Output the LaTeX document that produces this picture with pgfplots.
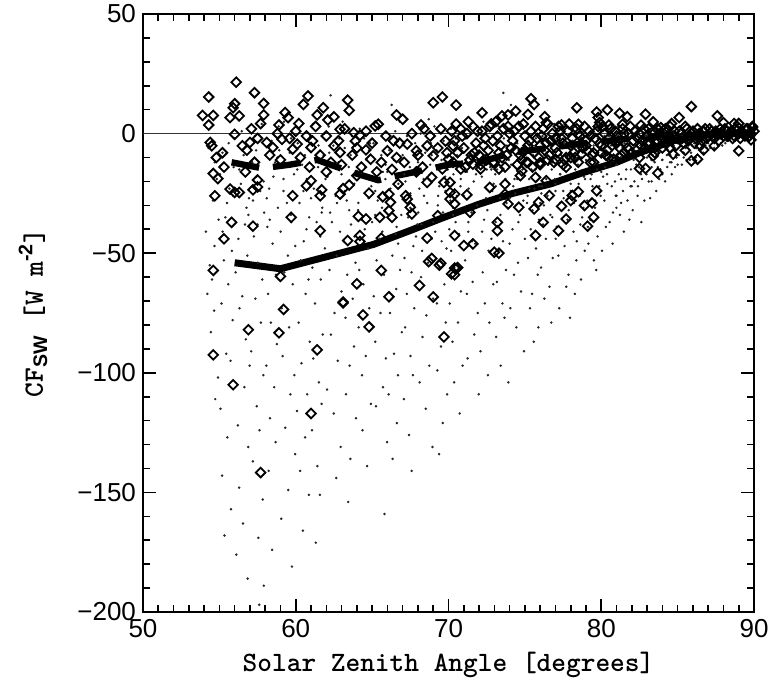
\documentclass[border=0pt]{standalone}
\usepackage{fontspec}
\setsansfont{Liberation Sans}
\usepackage{pgfplots}
\pgfplotsset{compat=1.18}

\begin{document}
\begin{tikzpicture}
\begin{axis}[
  scale only axis,
  width=305.5pt, height=299pt,
  xmin=50, xmax=90, ymin=-200, ymax=50,
  xtick={50,60,...,90}, ytick={-200,-150,...,50},
  xticklabels={50,60,70,80,90},
  yticklabels={−200,−150,−100,−50,0,50},
  minor x tick num=9, minor y tick num=4,
  tick align=inside, tick pos=both,
  major tick length=6.5pt, minor tick length=3.5pt,
  every tick/.style={black, line width=0.8pt},
  axis line style={line width=1pt},
  ticklabel style={font=\sffamily\fontsize{13}{15}\selectfont},
  xlabel={Solar Zenith Angle [degrees]},
  ylabel={CF\textsubscript{\sffamily\bfseries SW} [W m\textsuperscript{\sffamily -2}]},
  label style={font=\ttfamily\bfseries\fontsize{14}{16}\selectfont},
  xlabel style={at={(axis description cs:0.5,-0.0886)}, anchor=center},
  ylabel style={at={(axis description cs:-0.18,0.5)}, anchor=center},
  clip=true
]
% small dots
\addplot[only marks, mark=*, mark size=0.4pt, black!85] coordinates {
(54.12,-41)(54.37,-55)(54.21,-67)(54.58,-28)(54.83,-19)(54.66,-74)(54.44,-83)(54.91,-102)(54.73,-111)(54.29,-6)(54.95,-36)(54.52,-61)(54.68,-47)
(55.93,-14)(55.66,-23)(55.39,-35)(55.82,-49)(55.21,-41)(55.58,-63)(55.14,-71)(55.87,-78)(55.45,-92)(55.73,-95)(55.07,-115)(55.52,-127)(55.18,-143)(55.76,-157)(55.33,-168)(55.61,-4)(55.04,-17)(55.29,-53)(55.5,-29)
(56.59,-9)(56.41,-21)(56.94,-27)(56.68,-38)(56.25,-44)(56.83,-51)(56.06,-58)(56.50,-68)(56.32,-73)(56.73,-86)(56.98,-97)(56.64,-106)(56.21,-122)(56.89,-131)(56.30,-148)(56.54,-163)(56.11,-176)(56.85,-186)(56.46,1)(56.00,-2)(56.77,-31)
(57.15,-12)(57.42,-18)(57.67,-24)(57.93,-33)(57.26,-43)(57.51,-54)(57.81,-61)(57.36,-69)(57.72,-79)(57.08,-91)(57.88,-101)(57.45,-114)(57.63,-124)(57.19,-137)(57.84,-153)(57.55,-169)(57.91,-189)(57.61,-197)(57.33,-1)(57.77,4)(57.2,-28)(57.5,-38)
(58.92,-7)(58.65,-12)(58.26,-23)(58.83,-31)(58.14,-39)(58.48,-46)(58.71,-59)(58.19,-67)(58.37,-79)(58.76,-88)(58.07,-97)(58.59,-106)(58.31,-119)(58.68,-129)(58.23,-141)(58.45,-174)(58.88,3)(58.42,-3)(58.54,-18)(58.1,-27)
(59.61,-8)(59.89,-17)(59.20,-24)(59.68,-34)(59.01,-41)(59.49,-51)(59.25,-58)(59.80,-63)(59.08,-73)(59.56,-81)(59.14,-93)(59.91,-101)(59.65,-109)(59.31,-123)(59.96,-134)(59.51,-149)(59.05,-161)(59.75,-181)(59.23,5)(59.70,-2)(59.42,-29)(59.97,-47)
(60.13,-4)(60.41,-13)(60.72,-19)(60.24,-29)(60.88,-35)(60.53,-45)(60.32,-53)(60.83,-61)(60.64,-67)(60.19,-79)(60.92,-87)(60.37,-96)(60.75,-109)(60.08,-116)(60.61,-127)(60.29,-141)(60.86,-151)(60.47,-166)(60.22,2)(60.95,-1)(60.5,-24)(60.7,-40)
(61.82,-9)(61.46,-14)(61.18,-23)(61.73,-31)(61.37,-37)(61.91,-48)(61.09,-56)(61.64,-61)(61.26,-71)(61.77,-84)(61.15,-94)(61.52,-104)(61.69,-113)(61.06,-124)(61.42,-139)(61.58,-151)(61.31,-171)(61.88,0)(61.12,4)(61.49,-5)(61.95,-19)(61.6,-43)
(62.46,-5)(62.80,-12)(62.08,-18)(62.61,-26)(62.25,-33)(62.90,-41)(62.68,-51)(62.21,-57)(62.99,-66)(62.54,-75)(62.30,-84)(62.75,-95)(62.05,-107)(62.49,-117)(62.94,-131)(62.65,-144)(62.16,3)(62.85,-2)(62.28,16)(62.37,-37)(62.97,-22)
(63.21,-6)(63.47,-14)(63.83,-21)(63.34,-28)(63.62,-38)(63.14,-45)(63.91,-54)(63.37,-59)(63.73,-69)(63.26,-77)(63.81,-89)(63.52,-97)(63.29,-109)(63.94,-119)(63.58,-136)(63.43,-154)(63.07,5)(63.68,-1)(63.5,-32)(63.0,-17)(63.85,-43)
(64.86,-4)(64.62,-11)(64.27,-17)(64.77,-27)(64.08,-32)(64.52,-40)(64.73,-48)(64.16,-57)(64.43,-63)(64.81,-73)(64.12,-81)(64.58,-93)(64.34,-101)(64.92,-113)(64.37,-124)(64.67,-139)(64.19,2)(64.48,-2)(64.95,-22)(64.3,-36)(64.55,-14)
(65.60,-9)(65.88,-13)(65.21,-24)(65.65,-31)(65.00,-37)(65.49,-44)(65.29,-53)(65.78,-59)(65.11,-68)(65.55,-75)(65.20,-87)(65.90,-94)(65.71,-106)(65.25,-114)(65.98,-129)(65.81,-159)(65.43,3)(65.09,-4)(65.87,-19)(65.37,-28)(65.67,-41)
(66.12,-7)(66.42,-11)(66.72,-21)(66.23,-27)(66.91,-34)(66.54,-42)(66.32,-51)(66.83,-57)(66.58,-65)(66.17,-75)(66.94,-83)(66.43,-92)(66.69,-101)(66.08,-109)(66.62,-121)(66.34,-136)(66.81,5)(66.51,1)(66.28,12)(66.0,-16)(66.7,-46)
(67.82,-4)(67.47,-14)(67.18,-20)(67.73,-30)(67.36,-35)(67.87,-43)(67.12,-52)(67.58,-58)(67.27,-67)(67.76,-73)(67.16,-81)(67.51,-93)(67.67,-101)(67.08,-111)(67.42,-126)(67.59,-141)(67.93,4)(67.29,-1)(67.5,-25)(67.96,-38)(67.7,-47)(67.1,-17)
(68.48,-8)(68.80,-13)(68.09,-23)(68.61,-29)(68.23,-38)(68.89,-44)(68.66,-54)(68.20,-60)(68.99,-69)(68.55,-76)(68.30,-85)(68.74,-97)(68.11,-104)(68.51,-115)(68.95,-131)(68.70,6)(68.18,0)(68.85,-4)(68.37,-19)(68.02,-33)(68.27,-49)
(69.22,-7)(69.54,-11)(69.78,-18)(69.32,-26)(69.64,-33)(69.13,-41)(69.87,-48)(69.42,-56)(69.73,-63)(69.24,-71)(69.82,-79)(69.51,-89)(69.27,-99)(69.91,-109)(69.62,-121)(69.38,-134)(69.08,3)(69.68,-3)(69.4,-22)(69.0,-37)(69.95,-15)(69.55,-45)
(70.88,-6)(70.57,-9)(70.32,-17)(70.78,-22)(70.12,-28)(70.46,-37)(70.69,-42)(70.17,-49)(70.38,-56)(70.81,-66)(70.08,-71)(70.62,-79)(70.26,-87)(70.92,-97)(70.37,-104)(70.73,-117)(70.16,2)(70.49,-2)(70.83,-13)(70.29,-31)(70.55,-26)(70.05,-40)
(71.60,-5)(71.85,-8)(71.21,-16)(71.65,-20)(71.00,-26)(71.51,-33)(71.29,-41)(71.75,-46)(71.09,-53)(71.58,-62)(71.20,-67)(71.91,-75)(71.69,-84)(71.25,-94)(71.98,-109)(71.44,3)(71.11,-2)(71.80,-17)(71.31,-23)(71.54,-45)(71.87,-30)(71.37,-12)
(72.14,-2)(72.42,-9)(72.73,-14)(72.18,-18)(72.87,-24)(72.54,-32)(72.33,-36)(72.81,-44)(72.62,-49)(72.24,-58)(72.93,-63)(72.38,-71)(72.68,-79)(72.09,-91)(72.58,-101)(72.29,5)(72.84,-1)(72.51,-15)(72.96,-21)(72.2,-41)(72.45,-27)(72.7,-6)
(73.82,-5)(73.47,-8)(73.18,-15)(73.73,-19)(73.36,-27)(73.88,-31)(73.09,-37)(73.57,-45)(73.26,-49)(73.76,-57)(73.17,-62)(73.53,-71)(73.67,-77)(73.12,-85)(73.42,-97)(73.92,-104)(73.28,3)(73.62,-2)(73.06,-17)(73.8,-29)(73.59,17)(73.4,-34)(73.95,-11)
(74.50,-4)(74.79,-6)(74.10,-13)(74.61,-16)(74.24,-22)(74.90,-28)(74.68,-34)(74.19,-40)(74.00,-46)(74.55,-54)(74.29,-59)(74.75,-66)(74.05,-73)(74.44,-81)(74.94,-91)(74.65,4)(74.21,1)(74.85,-15)(74.32,-19)(74.58,-37)(74.09,12)(74.37,-25)(74.97,-9)
(75.23,-3)(75.54,-9)(75.83,-12)(75.28,-19)(75.62,-23)(75.14,-29)(75.92,-36)(75.38,-40)(75.73,-48)(75.21,-52)(75.84,-59)(75.47,-67)(75.33,-73)(75.88,-81)(75.58,-87)(75.07,3)(75.72,-2)(75.43,-15)(75.94,-22)(75.18,-26)(75.5,-32)(75.0,-44)(75.65,-6)
(76.88,-3)(76.57,-5)(76.32,-12)(76.76,-15)(76.12,-22)(76.48,-26)(76.67,-34)(76.19,-38)(76.37,-44)(76.82,-52)(76.06,-56)(76.61,-64)(76.28,-69)(76.73,-79)(76.92,4)(76.16,-1)(76.52,-13)(76.08,-25)(76.79,-35)(76.43,-8)(76.47,14)(76.96,-19)(76.25,-30)
(77.58,-4)(77.91,-6)(77.21,-12)(77.65,-14)(77.00,-21)(77.51,-24)(77.30,-29)(77.79,-36)(77.08,-39)(77.60,-47)(77.19,-51)(77.85,-59)(77.71,-64)(77.25,-73)(77.95,-77)(77.44,3)(77.11,-2)(77.75,-12)(77.31,-17)(77.54,-27)(77.87,-32)(77.37,-9)(77.02,-44)
(78.13,-3)(78.42,-4)(78.72,-10)(78.23,-12)(78.87,-18)(78.52,-21)(78.34,-28)(78.83,-31)(78.63,-38)(78.18,-41)(78.92,-49)(78.37,-53)(78.68,-61)(78.27,-67)(78.08,2)(78.84,1)(78.47,-13)(78.94,-19)(78.21,-29)(78.55,-7)(78.0,-24)(78.75,-35)(78.4,-45)
(79.78,-2)(79.47,-7)(79.18,-9)(79.72,-15)(79.37,-17)(79.87,-22)(79.08,-28)(79.59,-31)(79.28,-36)(79.76,-43)(79.16,-46)(79.52,-53)(79.67,-57)(79.12,-39)(79.93,3)(79.26,-2)(79.62,-11)(79.43,-22)(79.96,-26)(79.35,-13)(79.5,-5)
(80.51,-1)(80.79,-5)(80.10,-7)(80.60,-12)(80.25,-14)(80.90,-20)(80.69,-22)(80.20,-28)(80.99,-31)(80.55,-37)(80.30,-39)(80.74,-46)(80.05,-49)(80.45,3)(80.21,-1)(80.84,-12)(80.64,-5)(80.95,-26)(80.37,-17)(80.12,-18)(80.77,-33)
(81.23,-3)(81.52,-4)(81.83,-9)(81.28,-10)(81.63,-15)(81.14,-17)(81.92,-22)(81.43,-24)(81.72,-28)(81.22,-34)(81.84,-36)(81.48,-41)(81.07,3)(81.74,-1)(81.38,-9)(81.94,-15)(81.0,-13)(81.6,-19)(81.3,-29)
(82.88,-1)(82.57,-5)(82.27,-5)(82.78,-10)(82.12,-11)(82.48,-14)(82.67,-19)(82.17,-20)(82.38,-26)(82.82,-28)(82.06,-32)(82.62,-37)(82.92,3)(82.16,-1)(82.52,-7)(82.29,-14)(82.96,-17)(82.4,-22)
(83.59,-2)(83.90,-2)(83.21,-6)(83.65,-6)(83.99,-11)(83.50,-12)(83.30,-14)(83.79,-19)(83.11,-20)(83.60,-24)(83.20,-27)(83.45,1)(83.01,-1)(83.75,-8)(83.28,-11)(83.87,-15)(83.37,-9)
(84.13,-2)(84.42,-2)(84.73,-5)(84.22,-5)(84.88,-9)(84.53,-9)(84.32,-14)(84.83,-14)(84.62,-17)(84.18,-20)(84.08,1)(84.74,-1)(84.37,-7)(84.92,-10)(84.5,-12)(84.0,-11)
(85.77,-2)(85.48,-1)(85.17,-4)(85.72,-4)(85.37,-8)(85.88,-8)(85.08,-9)(85.58,-11)(85.28,-13)(85.82,1)(85.16,-1)(85.53,-6)(85.96,-5)(85.4,-10)
(86.49,-2)(86.80,-1)(86.09,-4)(86.60,-3)(86.25,-6)(86.89,-6)(86.70,-8)(86.19,-10)(86.45,1)(86.99,-1)(86.77,-5)
(87.23,-2)(87.52,-1)(87.83,-4)(87.28,-3)(87.63,-5)(87.13,-6)(87.92,-5)(87.42,1)(87.74,-1)(87.0,-3)
(88.88,-2)(88.57,-1)(88.28,-3)(88.77,-3)(88.12,-4)(88.48,1)(88.66,-1)(88.17,0)(88.4,-2)
(89.59,-2)(89.90,-1)(89.19,-1)(89.65,1)(89.00,-2)(89.50,0)(89.31,1)(89.77,-1)
(72.3,-10)(72.8,-15)(73.1,-22)(73.6,-12)(74.0,-27)(74.5,-19)(74.9,-8)(75.3,-23)(75.7,-15)(76.0,-29)(76.4,-19)(76.8,-12)
(77.0,-24)(77.3,-17)(77.7,-9)(78.0,-21)(78.3,-15)(78.6,-26)(79.0,-11)(79.3,-19)(79.6,-28)(80.0,-16)(80.4,-21)(80.7,-12)
(81.0,-26)(81.3,-19)(81.6,-9)(82.0,-22)(82.3,-13)(82.6,-17)(83.0,-10)(83.3,-20)(83.7,-14)(84.0,-17)(84.3,-9)(84.6,-12)
(85.0,-13)(85.4,-8)(85.8,-11)(86.2,-6)(86.6,-8)(87.0,-4)(87.4,-6)(87.8,-2)(88.2,-3)
(54.7,-12)(55.2,-8)(55.9,-26)(56.3,-15)(56.9,-34)(57.4,-7)(57.9,-20)(58.3,-36)(58.8,-10)(59.2,-19)(59.7,-37)(60.1,-15)
(60.6,-9)(61.0,-27)(61.7,-33)(62.2,-8)(62.7,-29)(63.2,-24)(63.6,-9)(64.1,-29)(64.8,-7)(65.2,-34)(65.7,-16)(66.2,-23)
(66.6,-39)(67.0,-9)(67.5,-31)(68.0,-12)(68.4,-26)(68.9,-9)(69.3,-30)(69.8,-24)(70.3,-34)(70.8,-19)(71.3,-37)(71.8,-11)
};
% diamonds
\addplot[only marks, mark=square, mark size=1.7pt, mark options={rotate=45, line width=0.9pt}, black] coordinates {
(56.1,21.5)(54.3,15.3)(57.3,17.1)(57.9,12.6)(60.8,15.7)(60.5,12.2)(63.4,14.0)(63.5,9.7)(61.8,10.8)(61.4,7.8)
(53.9,7.6)(54.6,7.6)(54.3,3.6)(55.7,6.7)(55.9,10.8)(56.0,12.5)(56.3,7.4)(57.9,7.8)(57.7,4.2)(58.9,3.6)
(59.3,8.8)(59.5,6.7)(60.2,4.2)(62.1,5.7)(62.5,7.0)(62.9,1.8)(63.8,0.4)(64.2,-0.7)(65.2,3.2)(65.4,3.9)
(66.6,7.8)(67.0,6.0)(68.2,3.6)(69.0,12.9)(69.6,15.3)(70.5,11.9)
(54.4,-3.7)(54.5,-5.1)(56.0,-0.3)(56.5,-5.1)(56.8,-6.9)(57.0,-3.7)(57.5,-2.0)(58.1,-3.7)(58.5,-5.8)(59.1,-2.4)
(59.8,-6.5)(60.1,-4.4)(60.7,-1.0)(61.1,-3.1)(61.0,-5.8)(62.0,-1.0)(62.5,-5.1)(62.9,-7.9)(63.9,-3.1)(64.6,-6.8)
(64.9,-10.7)(66.0,-7.2)(66.6,-10.0)(67.3,-4.4)(67.9,-7.2)(68.6,-5.1)(69.0,-9.3)(69.8,-3.1)(70.3,-5.1)
(55.3,-14.0)(54.6,-16.7)(54.9,-18.8)(54.7,-26.0)(55.7,-23.2)(56.0,-24.6)(56.3,-24.6)(57.2,-23.5)(57.5,-19.4)(57.5,-22.3)
(59.8,-26.0)(60.7,-21.8)(61.0,-19.7)(61.6,-26.0)(61.7,-23.5)(62.9,-25.3)(63.1,-23.0)(63.5,-21.5)(64.0,-17.6)(64.8,-24.9)
(65.7,-26.4)(66.1,-25.3)(66.2,-28.7)(66.1,-32.2)(66.7,-21.1)(67.2,-26.0)(67.3,-27.4)(67.5,-30.8)(67.6,-33.6)(68.6,-20.4)
(68.9,-18.3)(69.6,-14.8)(70.1,-20.4)(70.4,-25.3)
(55.8,-37.1)(57.2,-38.7)(59.7,-35.0)(61.6,-40.6)(64.1,-34.6)(64.6,-35.7)(65.5,-35.0)(66.3,-35.0)(63.4,-44.7)(64.2,-42.6)
(64.2,-45.1)(65.6,-43.7)(68.6,-43.7)(69.3,-34.3)(55.3,-44.0)(54.6,-57.2)(59.0,-59.7)(64.0,-62.8)(65.6,-57.2)(68.1,-63.5)
(68.7,-53.5)(68.9,-52.2)(69.5,-54.2)(70.5,-56.4)(66.1,-68.2)(69.0,-68.3)(63.1,-70.4)(59.2,-73.5)
(63.1,-70.8)(64.4,-75.8)(64.8,-80.8)(56.9,-82)(58.9,-83.3)(69.7,-85)(54.6,-92.5)(61.4,-90.4)(55.9,-105)
(61.0,-117)(57.7,-141.7)(69.4,-55)(70.6,-56)(70.4,-59)(73.3,-50)
(62.3,-12)(62.8,-3)(63.2,2)(63.7,-9)(64.3,-14)(64.6,1)(65.0,-4)(65.6,-12)(65.9,-1)(66.3,-15)
(66.8,-4)(67.1,-12)(67.6,0)(68.0,-9)(68.3,-14)(68.8,-1)(69.3,-6)(69.5,2)(60.3,-10)(60.9,-14)
(61.6,-9)(59.0,-11)(58.3,-9)(57.3,-12)(56.7,-16)(55.2,-8)(54.8,-10)(63.0,-13)(65.3,-16)(67.9,-16)
(69.9,-8)(64.0,-6)(66.4,-3)(68.4,2)(62.0,-16)(60.0,1)(58.8,0)(57.1,2)(61.3,3)(59.6,-2)
(72.2,8.7)(75.4,14.6)(75.6,12.2)(78.4,10.8)(80.4,9.9)(79.7,9.0)(81.2,8.5)(81.7,7.1)(82.9,8.1)(83.4,4.9)
(85.1,6.7)(85.9,11.3)(74.4,9.4)(75.2,8.0)(73.5,7.4)(73.9,7.8)(76.3,7.1)(76.4,4.6)(77.4,3.6)(78.5,3.9)
(79.8,6.7)(79.9,4.6)(80.5,3.6)(81.4,3.9)(82.6,3.5)(83.9,2.5)(84.6,4.2)(87.6,7.4)(88.0,4.6)(88.7,4.2)
(89.0,4.2)(89.9,2.5)(89.0,-7.2)(89.8,-2.6)(87.4,-5.1)(86.7,-6.8)(85.9,-11.4)(86.3,-10.7)(84.7,-8.6)(83.7,-16.5)
(82.9,-14.6)(82.5,-14.6)(83.4,-9.3)(80.8,-10.7)(81.2,-10.0)(79.7,-23.9)(79.4,-29.0)(78.9,-30.1)(79.1,-38.7)(79.5,-35.0)
(78.5,-24.3)(78.1,-25.9)(78.0,-28.0)(77.4,-30.4)(77.7,-35.7)(77.2,-40.6)(76.2,-37.1)(75.7,-42.6)(75.9,-28.7)(75.6,-31.5)
(74.6,-30.8)(73.9,-29.4)(73.7,-25.3)(73.2,-37.1)(73.2,-40.6)(73.0,-49.6)(71.6,-46.1)(71.0,-46.8)(70.4,-42.6)(70.4,-56.2)
(70.2,-58.6)(71.4,-32.9)(71.2,-25.6)(70.1,-24.6)(70.1,-27.4)(70.4,-29.4)(72.7,-22.5)(73.7,-21.1)(74.7,-17.6)(75.7,-18.3)
(76.4,-19.7)(76.6,-25.9)(69.7,-20.4)(70.0,-10.7)(70.8,-14.8)(71.6,-12.8)(72.1,-14.8)(72.9,-12.1)(73.3,-14.8)(74.8,-15.6)
(75.2,-12.1)(76.0,-12.1)(77.0,-10.7)(77.7,-10.0)(78.7,-8.6)(79.3,-12.1)
(74.5,-13)(75.5,-14)(76.5,-11)(77.5,-13)(78.5,-12)(79.5,-8)(80.5,-10)(81.5,-8)(82.5,-10)(83.5,-8)(84.5,-6)(85.5,-7)
(86.5,-5)(73.5,-10)(72.5,-11)(71.5,-9)(75.0,-7)(77.0,-2)(79.0,-5)(81.0,-4)(83.0,-4)(80.0,-8)(78.0,-10)(76.0,-5)
(70.2,1)(70.4,-3)(70.6,-8)(70.8,2)(71.0,-6)(71.2,0)(71.4,-11)(71.6,3)(71.8,-4)(72.0,-9)
(72.2,1)(72.4,-2)(72.6,-7)(72.8,4)(73.0,-12)(73.2,-1)(73.4,-5)(73.6,2)(73.8,-9)(74.0,0)
(74.2,-3)(74.4,-7)(74.6,3)(74.8,-11)(75.0,-1)(75.2,-5)(75.4,1)(75.6,-8)(75.8,-2)(76.0,-13)
(76.2,2)(76.4,-4)(76.6,-9)(76.8,0)(77.0,-6)(77.2,3)(77.4,-2)(77.6,-11)(77.8,1)(78.0,-5)
(78.2,-8)(78.4,2)(78.6,-1)(78.8,-6)(79.0,-3)(79.2,1)(79.4,-9)(79.6,-2)(79.8,3)(80.0,-5)
(80.2,0)(80.4,-7)(80.6,2)(80.8,-3)(81.0,-1)(81.2,-6)(81.4,2)(81.6,-4)(81.8,0)(82.0,-8)
(82.2,1)(82.4,-2)(82.6,-5)(82.8,2)(83.0,-1)(83.2,-4)(83.4,1)(83.6,-3)(83.8,0)(84.0,-6)
(84.2,2)(84.4,-1)(84.6,-3)(84.8,1)(85.0,-2)(85.2,0)(85.4,-4)(85.6,2)(85.8,-1)(86.0,1)
(86.2,-2)(86.4,0)(86.6,-3)(86.8,2)(87.0,-1)(87.2,1)(87.4,-2)(87.6,0)(87.8,2)(88.0,-1)
(88.2,1)(88.4,0)(88.6,-2)(88.8,2)(89.0,0)(89.2,1)(89.4,-1)(89.6,2)(89.8,0)(90.0,1)
(70.3,-12)(70.5,4)(70.9,-1)(71.1,-14)(71.3,5)(71.7,-8)(71.9,1)(72.1,-13)(72.3,-5)(72.7,3)
(72.9,-3)(73.1,5)(73.3,-8)(73.7,-14)(73.9,3)(74.1,-6)(74.3,1)(74.7,-9)(74.9,4)(75.1,-12)
(75.3,-3)(75.7,3)(75.9,-10)(76.1,-1)(76.3,-7)(76.5,4)(76.7,-3)(76.9,-12)(77.1,-8)(77.3,1)
(77.5,-4)(77.7,-14)(77.9,4)(78.1,-2)(78.3,-10)(78.5,0)(78.7,-4)(78.9,3)(79.1,-7)(79.3,-1)
(79.5,-12)(79.7,1)(79.9,-4)(80.1,3)(80.3,-9)(80.5,-2)(80.7,-5)(80.9,1)(81.1,-3)(81.3,-9)
(81.5,0)(81.7,-6)(81.9,3)(82.1,-3)(82.3,-7)(82.5,0)(82.7,-3)(82.9,-6)(83.1,2)(83.3,-2)
(83.5,-6)(83.7,2)(83.9,-2)(84.1,0)(84.3,-4)(84.5,3)(84.7,-1)(84.9,-5)(85.1,1)(85.3,-2)
(85.5,3)(85.7,-3)(85.9,0)(86.1,-4)(86.3,2)(86.5,-1)(86.7,1)(86.9,-2)(87.1,2)(87.3,-1)
(87.5,1)(87.7,-3)(87.9,0)(88.1,2)(88.3,-1)(88.5,1)(88.7,-1)(88.9,3)(89.1,-2)(89.3,0)
(89.5,2)(89.7,-1)(89.9,3)
};
% zero line
\addplot[black!80, line width=0.7pt] coordinates {(50,0) (90,0)};
% dashed mean
\addplot[black, line width=3.2pt, dash pattern=on 14pt off 7pt, line join=round] coordinates {
(55.8,-12) (57.8,-14.5) (59.6,-13) (61.4,-11) (63.6,-16) (65.4,-19.5) (66.7,-17.5) (68.6,-15)
(70.0,-13) (72.0,-12) (74.2,-8) (76.5,-6) (79,-4) (82,-2) (86,-0.5) (90,0)
};
% solid mean
\addplot[black, line width=3.5pt, line join=round] coordinates {
(56.0,-54) (59.0,-56.5) (62,-51.5) (65.1,-46.3) (67.5,-40.5) (69.5,-35.5) (72,-29.5) (74.2,-25)
(76.7,-21) (78.8,-16.3) (81,-12) (82.5,-8) (84.7,-3) (87,-0.5) (90,0.5)
};
\end{axis}
\pgfresetboundingbox
\path[use as bounding box] ([shift={(-71.5pt,-40.5pt)}]current axis.south west) rectangle ([shift={(10.5pt,7pt)}]current axis.north east);
\end{tikzpicture}
\end{document}
